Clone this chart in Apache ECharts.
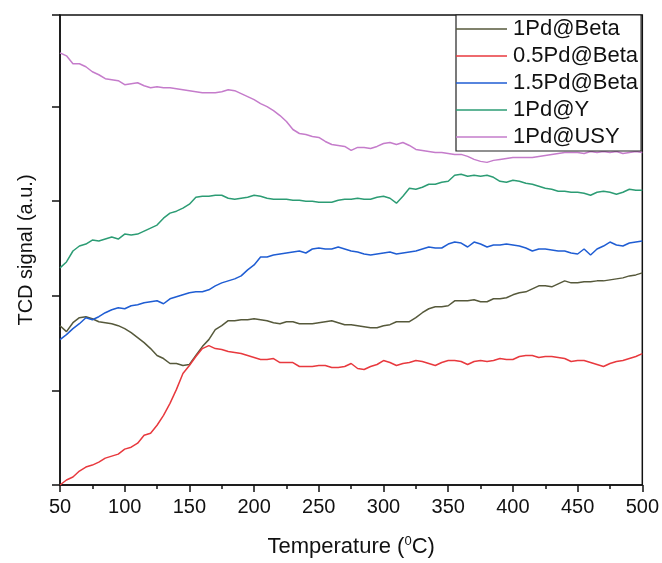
<!DOCTYPE html>
<html>
<head>
<meta charset="utf-8">
<script src="https://cdn.jsdelivr.net/npm/echarts@6/dist/echarts.min.js"></script>
<style>
  html, body { margin: 0; padding: 0; background: #fff; }
  #chart { width: 662px; height: 563px; }
</style>
</head>
<body>
<div id="chart"></div>
<script>
// Temperature sampling points (°C)
const temps = [
  50, 55, 60, 65, 70, 75, 80, 85, 90, 95,
  100, 105, 110, 115, 120, 125, 130, 135, 140, 145,
  150, 155, 160, 165, 170, 175, 180, 185, 190, 195,
  200, 205, 210, 215, 220, 225, 230, 235, 240, 245,
  250, 255, 260, 265, 270, 275, 280, 285, 290, 295,
  300, 305, 310, 315, 320, 325, 330, 335, 340, 345,
  350, 355, 360, 365, 370, 375, 380, 385, 390, 395,
  400, 405, 410, 415, 420, 425, 430, 435, 440, 445,
  450, 455, 460, 465, 470, 475, 480, 485, 490, 495,
  500
];

// TCD signal (a.u., curves stacked with offsets)
const pd1Beta = [
  160, 154, 163, 168, 169, 167, 164, 163, 162, 160,
  157, 153, 148, 143, 137, 130, 127, 122, 122, 120,
  121, 130, 139, 146, 156, 160, 165, 165, 166, 166,
  167, 166, 165, 163, 162, 164, 164, 162, 162, 162,
  163, 164, 165, 163, 161, 161, 160, 159, 158, 158,
  160, 161, 164, 164, 164, 168, 173, 177, 179, 179,
  180, 185, 185, 185, 186, 184, 184, 187, 187, 188,
  191, 193, 194, 197, 200, 200, 199, 202, 205, 203,
  203, 204, 204, 205, 205, 206, 207, 208, 210, 211,
  213
];
const pd05Beta = [
  0, 5, 8, 14, 18, 20, 23, 27, 29, 31,
  36, 38, 42, 50, 52, 60, 70, 82, 96, 112,
  120, 129, 137, 140, 137, 136, 134, 133, 132, 130,
  128, 126, 126, 127, 123, 123, 123, 119, 119, 119,
  120, 120, 118, 118, 119, 122, 117, 116, 119, 121,
  125, 123, 120, 122, 123, 125, 124, 122, 120, 123,
  125, 125, 124, 121, 124, 125, 124, 125, 127, 126,
  126, 129, 130, 130, 128, 129, 129, 128, 127, 124,
  125, 125, 123, 121, 119, 122, 124, 125, 127, 129,
  132
];
const pd15Beta = [
  146, 151, 157, 162, 168, 166, 169, 173, 176, 178,
  177, 180, 181, 183, 184, 185, 182, 187, 189, 191,
  193, 194, 194, 196, 200, 203, 205, 207, 210, 216,
  221, 229, 229, 231, 232, 233, 234, 235, 233, 237,
  238, 237, 237, 239, 237, 235, 234, 232, 231, 232,
  233, 234, 232, 233, 234, 235, 237, 239, 238, 238,
  242, 244, 243, 239, 244, 242, 239, 241, 241, 242,
  241, 240, 238, 235, 237, 237, 236, 235, 235, 233,
  232, 237, 231, 237, 240, 244, 241, 240, 243, 244,
  245
];
const pd1Y = [
  218, 224, 235, 240, 242, 246, 245, 247, 249, 247,
  252, 251, 252, 255, 258, 261, 268, 273, 275, 278,
  282, 289, 290, 290, 291, 291, 288, 287, 288, 289,
  291, 290, 288, 287, 287, 287, 286, 286, 285, 285,
  284, 284, 284, 286, 287, 287, 288, 287, 287, 289,
  290, 288, 283, 290, 298, 297, 299, 302, 302, 304,
  305, 311, 312, 310, 311, 310, 311, 309, 305, 304,
  306, 305, 303, 302, 300, 298, 297, 295, 295, 294,
  294, 293, 291, 294, 295, 294, 292, 294, 297, 296,
  296
];
const pd1USY = [
  434, 431, 423, 423, 420, 415, 412, 408, 407, 406,
  402, 403, 404, 401, 399, 400, 399, 399, 398, 397,
  396, 395, 394, 394, 394, 395, 397, 396, 393, 390,
  387, 383, 380, 376, 371, 365, 357, 353, 352, 350,
  349, 345, 342, 341, 340, 336, 339, 339, 338, 340,
  343, 344, 342, 344, 341, 337, 336, 335, 334, 334,
  333, 332, 332, 330, 327, 325, 324, 326, 327, 328,
  329, 329, 329, 329, 330, 331, 332, 333, 334, 334,
  334, 333, 335, 334, 335, 334, 335, 333, 334, 335,
  334
];

const seriesNames = ['1Pd@Beta', '0.5Pd@Beta', '1.5Pd@Beta', '1Pd@Y', '1Pd@USY'];
const seriesValues = [pd1Beta, pd05Beta, pd15Beta, pd1Y, pd1USY];
const seriesColors = ['#56593b', '#e8393e', '#1f5dd3', '#2c9c74', '#c57ccb'];

const FONT = 'Arial, "Liberation Sans", sans-serif';
const INK = '#111';

const chart = echarts.init(document.getElementById('chart'), null, { renderer: 'canvas' });

chart.setOption({
  animation: false,
  backgroundColor: '#fff',
  textStyle: { fontFamily: FONT, color: INK },
  grid: {
    left: 60, right: 19, top: 15, bottom: 76,
    show: true, borderColor: INK, borderWidth: 1.5, backgroundColor: 'transparent'
  },
  legend: {
    left: 456, top: 15,
    orient: 'vertical',
    padding: [3, 3, 3, 0],
    itemGap: 5,
    icon: 'rect',
    itemWidth: 51,
    itemHeight: 1.6,
    borderColor: '#222',
    borderWidth: 1.2,
    borderRadius: 0,
    backgroundColor: '#fff',
    textStyle: { fontFamily: FONT, fontSize: 22, lineHeight: 21, color: INK, padding: [0, 0, 0, 1] },
    data: seriesNames
  },
  xAxis: {
    type: 'value',
    min: 50, max: 500, interval: 50,
    name: 'Temperature ({sup|0}C)',
    nameLocation: 'middle',
    nameGap: 50,
    nameTextStyle: {
      fontFamily: FONT, fontSize: 22, color: INK,
      rich: { sup: { fontFamily: FONT, fontSize: 13, color: INK, padding: [0, 0, 11, 0] } }
    },
    axisLine: { show: true, onZero: false, lineStyle: { color: INK, width: 1.5 } },
    axisTick: { show: true, inside: false, length: 7, lineStyle: { color: INK, width: 1.5 } },
    minorTick: { show: true, splitNumber: 2, length: 4, lineStyle: { color: INK, width: 1.5 } },
    axisLabel: { fontFamily: FONT, fontSize: 20, color: INK, margin: 12 },
    splitLine: { show: false }
  },
  yAxis: {
    type: 'value',
    min: 0, max: 472, interval: 95,
    name: 'TCD signal (a.u.)',
    nameLocation: 'middle',
    nameGap: 24,
    nameTextStyle: { fontFamily: FONT, fontSize: 20, color: INK },
    axisLine: { show: true, onZero: false, lineStyle: { color: INK, width: 1.5 } },
    axisTick: { show: true, inside: false, length: 8, lineStyle: { color: INK, width: 1.5 } },
    axisLabel: { show: false },
    splitLine: { show: false }
  },
  series: seriesNames.map((name, i) => ({
    name: name,
    type: 'line',
    data: temps.map((t, j) => [t, seriesValues[i][j]]),
    showSymbol: false,
    symbol: 'none',
    lineStyle: { color: seriesColors[i], width: 1.5 },
    itemStyle: { color: seriesColors[i] },
    z: 2
  }))
});
</script>
</body>
</html>
